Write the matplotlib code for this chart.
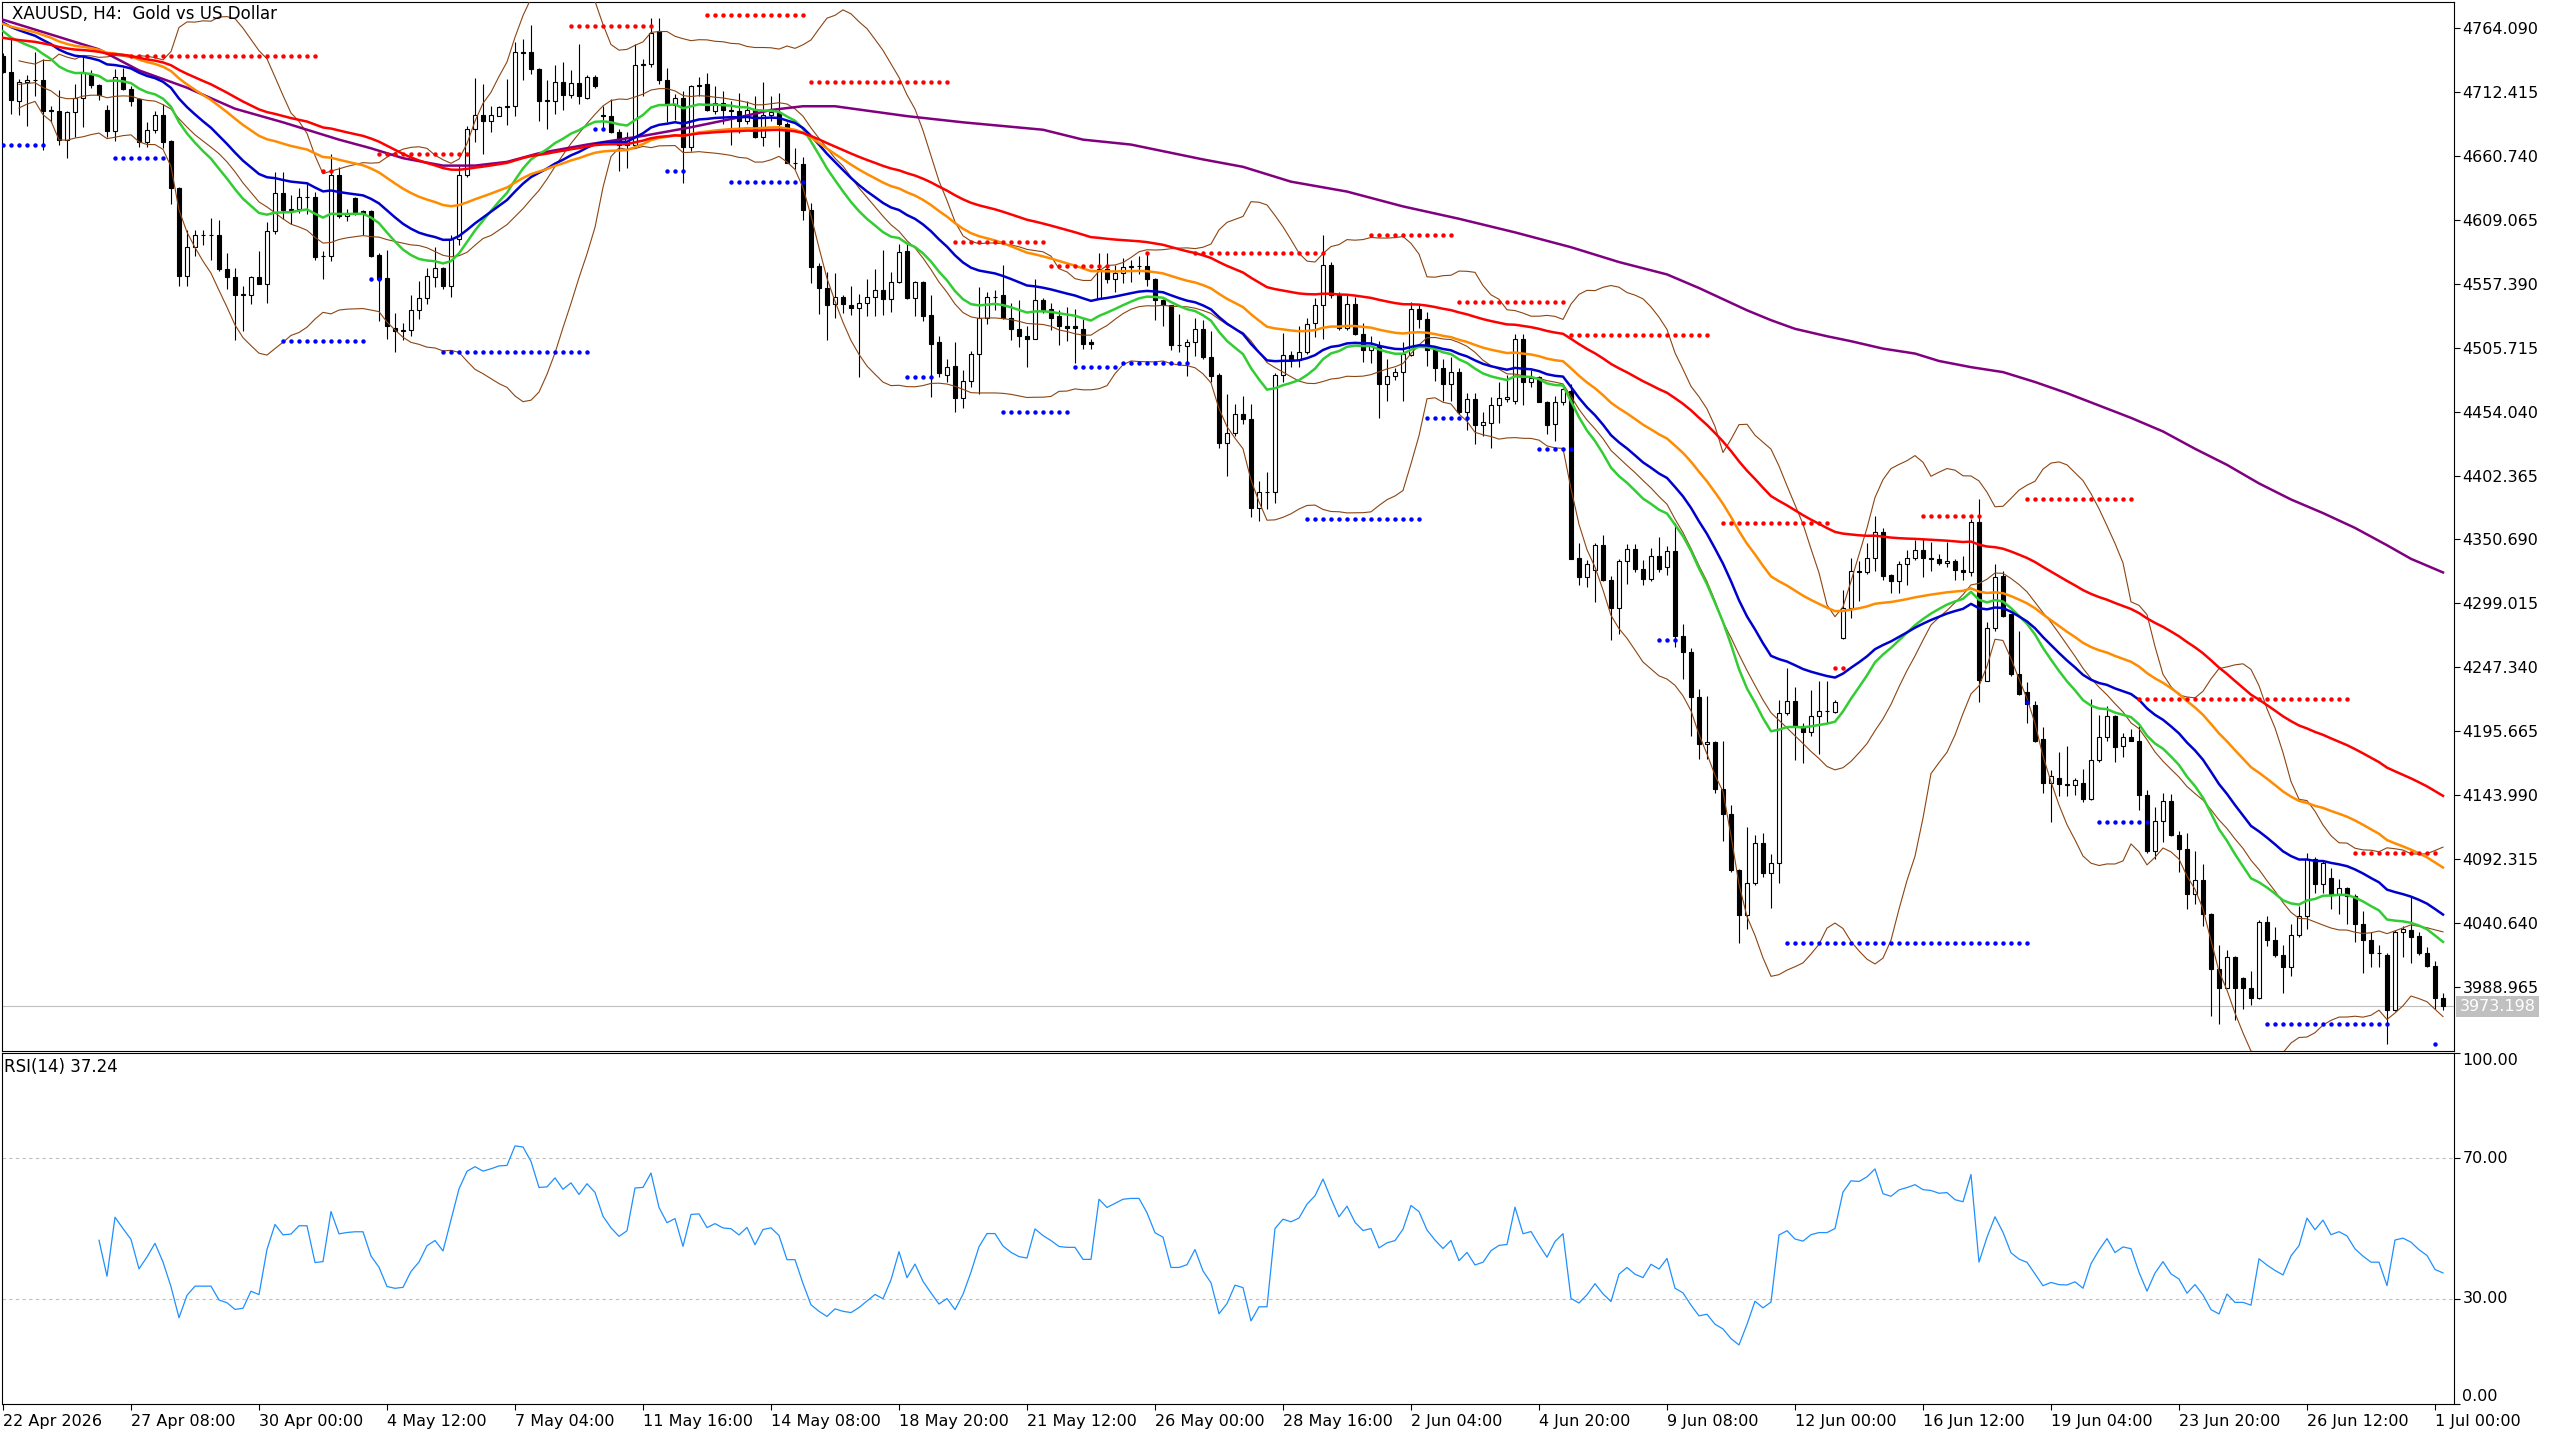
import numpy as np
import pandas as pd
import matplotlib
matplotlib.use('Agg')
import matplotlib.pyplot as plt

plt.rcParams['font.family'] = ['DejaVu Sans']

# XAUUSD H4 candles (bar 0 = 22 Apr 2026 16:00)
opens = [
    4742, 4729, 4705, 4721, 4722, 4722, 4698, 4697, 4674, 4696,
    4708, 4727, 4718, 4698, 4681, 4725, 4715, 4707, 4672, 4682,
    4694, 4673, 4635, 4564, 4587, 4597, 4597, 4597, 4569, 4563,
    4548, 4548, 4563, 4557, 4600, 4631, 4617, 4618, 4628, 4628,
    4580, 4580, 4645, 4612, 4627, 4616, 4616, 4581, 4562, 4522,
    4519, 4520, 4536, 4546, 4563, 4570, 4556, 4594, 4645, 4683,
    4694, 4689, 4693, 4700, 4701, 4745, 4745, 4731, 4705, 4705,
    4721, 4710, 4720, 4708, 4725, 4694, 4693, 4680, 4670, 4670,
    4734, 4735, 4762, 4722, 4702, 4708, 4668, 4717, 4719, 4697,
    4704, 4698, 4697, 4689, 4698, 4676, 4694, 4696, 4687, 4655,
    4654, 4617, 4572, 4554, 4541, 4547, 4540, 4538, 4542, 4547,
    4552, 4545, 4559, 4584, 4546, 4559, 4532, 4510, 4484, 4491,
    4465, 4479, 4501, 4530, 4547, 4548, 4530, 4521, 4515, 4513,
    4544, 4537, 4531, 4523, 4523, 4521, 4510, 4546, 4569, 4561,
    4566, 4571, 4572, 4572, 4561, 4544, 4540, 4508, 4507, 4510,
    4521, 4498, 4484, 4429, 4437, 4452, 4448, 4376, 4389, 4389,
    4484, 4500, 4496, 4502, 4526, 4540, 4573, 4548, 4522, 4541,
    4517, 4504, 4507, 4476, 4483, 4486, 4500, 4537, 4529, 4504,
    4489, 4476, 4486, 4454, 4464, 4443, 4445, 4459, 4464, 4463,
    4513, 4478, 4482, 4462, 4444, 4462, 4471, 4336, 4320, 4326,
    4346, 4318, 4295, 4333, 4343, 4327, 4319, 4337, 4328, 4341,
    4273, 4260, 4223, 4185, 4187, 4149, 4129, 4083, 4047, 4073,
    4105, 4081, 4089, 4210, 4220, 4200, 4195, 4208, 4212, 4211,
    4271, 4295, 4325, 4324, 4336, 4357, 4322, 4317, 4331, 4336,
    4342, 4336, 4335, 4332, 4333, 4326, 4324, 4365, 4236, 4279,
    4321, 4290, 4242, 4227, 4217, 4189, 4154, 4158, 4153, 4152,
    4154, 4141, 4172, 4191, 4208, 4184, 4191, 4188, 4144, 4099,
    4123, 4139, 4112, 4100, 4064, 4075, 4048, 4003, 3988, 4013,
    3996, 3988, 3980, 4041, 4027, 4015, 4005, 4031, 4046, 4092,
    4072, 4077, 4064, 4069, 4062, 4040, 4027, 4016, 4015, 3970,
    4033, 4035, 4030, 4016, 4006, 3980,
]
highs = [
    4744, 4756, 4723, 4726, 4745, 4739, 4701, 4714, 4697, 4719,
    4742, 4730, 4719, 4702, 4731, 4732, 4717, 4708, 4688, 4697,
    4703, 4674, 4636, 4601, 4601, 4601, 4611, 4609, 4582, 4570,
    4556, 4564, 4584, 4607, 4648, 4648, 4629, 4635, 4640, 4632,
    4584, 4662, 4652, 4618, 4628, 4617, 4617, 4582, 4585, 4534,
    4526, 4548, 4560, 4570, 4587, 4571, 4597, 4653, 4685, 4724,
    4719, 4701, 4701, 4723, 4753, 4755, 4767, 4732, 4722, 4734,
    4737, 4730, 4751, 4726, 4726, 4701, 4707, 4683, 4680, 4751,
    4739, 4772, 4772, 4732, 4711, 4713, 4718, 4725, 4728, 4717,
    4713, 4705, 4712, 4705, 4709, 4721, 4709, 4712, 4688, 4667,
    4660, 4623, 4574, 4567, 4566, 4548, 4556, 4549, 4561, 4569,
    4585, 4567, 4590, 4590, 4560, 4560, 4548, 4515, 4497, 4510,
    4488, 4503, 4555, 4551, 4552, 4573, 4542, 4544, 4523, 4561,
    4546, 4542, 4536, 4539, 4537, 4529, 4513, 4582, 4582, 4573,
    4578, 4577, 4580, 4582, 4562, 4545, 4540, 4533, 4513, 4530,
    4528, 4519, 4485, 4468, 4460, 4467, 4460, 4398, 4405, 4485,
    4518, 4503, 4523, 4530, 4546, 4597, 4575, 4551, 4548, 4547,
    4526, 4515, 4511, 4497, 4489, 4510, 4543, 4540, 4535, 4505,
    4497, 4498, 4489, 4469, 4469, 4454, 4466, 4478, 4484, 4517,
    4517, 4488, 4483, 4463, 4467, 4473, 4476, 4348, 4334, 4348,
    4354, 4321, 4335, 4347, 4347, 4334, 4344, 4353, 4345, 4364,
    4282, 4263, 4230, 4224, 4188, 4188, 4136, 4084, 4118, 4112,
    4113, 4096, 4221, 4247, 4231, 4202, 4229, 4236, 4236, 4221,
    4310, 4336, 4333, 4348, 4370, 4360, 4323, 4333, 4342, 4350,
    4351, 4349, 4339, 4349, 4335, 4337, 4367, 4383, 4284, 4331,
    4325, 4290, 4277, 4235, 4220, 4199, 4164, 4179, 4184, 4158,
    4165, 4222, 4209, 4216, 4209, 4194, 4197, 4200, 4148, 4134,
    4146, 4145, 4115, 4113, 4099, 4088, 4049, 4023, 4019, 4014,
    3997, 4002, 4043, 4046, 4037, 4023, 4040, 4054, 4097, 4094,
    4091, 4085, 4076, 4070, 4064, 4050, 4033, 4023, 4016, 4035,
    4038, 4062, 4033, 4021, 4010, 3984,
]
lows = [
    4728, 4695, 4694, 4685, 4709, 4666, 4688, 4670, 4659, 4676,
    4684, 4716, 4706, 4676, 4673, 4714, 4701, 4668, 4668, 4679,
    4667, 4622, 4556, 4556, 4580, 4589, 4577, 4568, 4553, 4512,
    4519, 4541, 4557, 4542, 4598, 4610, 4606, 4615, 4614, 4577,
    4561, 4576, 4611, 4608, 4613, 4597, 4579, 4527, 4513, 4502,
    4512, 4515, 4529, 4541, 4555, 4553, 4547, 4589, 4644, 4672,
    4662, 4680, 4693, 4686, 4693, 4722, 4727, 4689, 4683, 4695,
    4698, 4708, 4703, 4707, 4716, 4682, 4679, 4649, 4651, 4667,
    4709, 4733, 4719, 4688, 4690, 4639, 4665, 4709, 4697, 4695,
    4687, 4670, 4679, 4687, 4675, 4669, 4689, 4668, 4655, 4650,
    4609, 4558, 4533, 4512, 4530, 4534, 4532, 4482, 4531, 4531,
    4532, 4535, 4558, 4545, 4531, 4527, 4466, 4482, 4478, 4454,
    4457, 4474, 4468, 4525, 4536, 4529, 4512, 4506, 4490, 4513,
    4534, 4520, 4508, 4511, 4493, 4505, 4505, 4546, 4558, 4551,
    4558, 4559, 4565, 4556, 4528, 4523, 4504, 4502, 4483, 4499,
    4497, 4478, 4425, 4402, 4434, 4444, 4369, 4366, 4375, 4380,
    4478, 4490, 4490, 4501, 4514, 4513, 4546, 4520, 4520, 4516,
    4494, 4493, 4449, 4463, 4480, 4463, 4499, 4522, 4491, 4479,
    4463, 4463, 4452, 4439, 4428, 4434, 4425, 4445, 4462, 4460,
    4459, 4474, 4462, 4436, 4430, 4459, 4335, 4314, 4312, 4300,
    4317, 4269, 4274, 4315, 4324, 4314, 4317, 4324, 4322, 4264,
    4238, 4192, 4173, 4173, 4146, 4107, 4082, 4024, 4036, 4071,
    4078, 4053, 4073, 4209, 4172, 4170, 4192, 4177, 4202, 4210,
    4270, 4287, 4301, 4323, 4325, 4318, 4307, 4307, 4314, 4334,
    4320, 4325, 4330, 4328, 4318, 4318, 4321, 4219, 4236, 4277,
    4288, 4240, 4225, 4202, 4187, 4146, 4122, 4143, 4143, 4144,
    4138, 4140, 4171, 4188, 4171, 4175, 4188, 4132, 4097, 4092,
    4106, 4111, 4082, 4052, 4056, 4038, 3965, 3959, 3988, 3962,
    3971, 3974, 3979, 4022, 4013, 3984, 3998, 4029, 4036, 4065,
    4065, 4052, 4048, 4040, 4025, 4000, 4005, 4005, 3943, 3969,
    4013, 4008, 4015, 4005, 3971, 3970,
]
closes = [
    4729, 4706, 4721, 4722, 4722, 4697, 4697, 4674, 4696, 4708,
    4729, 4718, 4710, 4681, 4725, 4715, 4705, 4672, 4682, 4694,
    4672, 4635, 4564, 4587, 4597, 4597, 4597, 4569, 4563, 4548,
    4549, 4563, 4557, 4600, 4631, 4617, 4618, 4628, 4628, 4579,
    4580, 4645, 4612, 4614, 4615, 4615, 4580, 4561, 4523, 4519,
    4520, 4536, 4546, 4564, 4570, 4556, 4594, 4645, 4683, 4694,
    4689, 4694, 4700, 4701, 4745, 4744, 4731, 4705, 4706, 4721,
    4710, 4720, 4709, 4725, 4717, 4693, 4680, 4670, 4676, 4734,
    4735, 4760, 4722, 4702, 4708, 4668, 4717, 4718, 4698, 4704,
    4698, 4697, 4689, 4698, 4676, 4694, 4696, 4687, 4655, 4655,
    4617, 4571, 4554, 4540, 4547, 4541, 4538, 4542, 4547, 4552,
    4545, 4559, 4583, 4546, 4559, 4531, 4509, 4485, 4490, 4465,
    4479, 4501, 4530, 4547, 4547, 4530, 4521, 4515, 4513, 4544,
    4536, 4530, 4523, 4522, 4522, 4509, 4509, 4569, 4561, 4566,
    4571, 4572, 4572, 4561, 4544, 4540, 4508, 4508, 4510, 4521,
    4498, 4483, 4429, 4437, 4452, 4448, 4376, 4389, 4389, 4484,
    4500, 4496, 4502, 4525, 4540, 4573, 4548, 4522, 4541, 4517,
    4504, 4507, 4476, 4483, 4486, 4501, 4537, 4529, 4504, 4489,
    4476, 4486, 4454, 4464, 4443, 4446, 4459, 4465, 4466, 4513,
    4478, 4481, 4462, 4443, 4462, 4472, 4335, 4320, 4331, 4346,
    4318, 4295, 4333, 4343, 4327, 4319, 4337, 4327, 4341, 4273,
    4260, 4223, 4185, 4187, 4149, 4129, 4083, 4047, 4073, 4105,
    4081, 4089, 4210, 4220, 4200, 4195, 4208, 4212, 4212, 4219,
    4295, 4325, 4324, 4336, 4357, 4321, 4317, 4331, 4336, 4342,
    4336, 4335, 4332, 4333, 4326, 4324, 4365, 4237, 4279, 4320,
    4289, 4242, 4226, 4218, 4188, 4154, 4159, 4153, 4152, 4156,
    4141, 4172, 4191, 4208, 4183, 4191, 4188, 4144, 4099, 4123,
    4139, 4112, 4100, 4064, 4075, 4048, 4003, 3988, 4013, 3988,
    3988, 3980, 4041, 4027, 4015, 4005, 4031, 4046, 4092, 4072,
    4089, 4064, 4069, 4062, 4040, 4027, 4016, 4016, 3970, 4033,
    4036, 4029, 4016, 4006, 3980, 3973.198,
]

# EMA periods and their value at the left edge of the chart
ema_periods = [21, 34, 55, 89]
ema_start = [4765, 4771, 4769, 4757]

# slow purple MA, read at sample bars
slow_bars = [0, 6, 12, 17, 23, 29, 35, 42, 46, 50, 55, 59, 63, 67, 73, 80, 86, 92,
             96, 100, 104, 113, 120, 130, 135, 141, 150, 155, 161, 168, 175, 182,
             189, 196, 202, 208, 212, 218, 221, 224, 228, 231, 235, 239, 242, 246,
             250, 254, 258, 262, 266, 270, 274, 278, 282, 286, 290, 294, 298, 301, 305]
slow_vals = [4771, 4759, 4747, 4730, 4716, 4699, 4688, 4674, 4667, 4659, 4653, 4653,
             4656, 4663, 4670, 4677, 4684, 4692, 4698, 4701, 4701, 4693, 4688, 4682,
             4674, 4670, 4658, 4652, 4640, 4632, 4620, 4610, 4599, 4587, 4575, 4565,
             4554, 4536, 4528, 4521, 4515, 4511, 4505, 4501, 4495, 4490, 4486, 4478,
             4469, 4459, 4449, 4438, 4424, 4411, 4396, 4383, 4372, 4360, 4346, 4335, 4324]

# fractal levels: (first bar, last bar, price)
res_levels = [(16, 39, 4742), (40, 41, 4649), (47, 58, 4662), (71, 81, 4766),
              (88, 100, 4775), (101, 118, 4721), (119, 130, 4591), (131, 138, 4572),
              (143, 143, 4582), (149, 165, 4582), (171, 181, 4597), (182, 195, 4543),
              (196, 213, 4516), (215, 228, 4364), (229, 230, 4247), (240, 247, 4370),
              (253, 266, 4383), (267, 293, 4222), (294, 304, 4097)]
sup_levels = [(0, 5, 4670), (14, 20, 4659), (35, 45, 4511), (46, 47, 4561),
              (55, 73, 4502), (74, 75, 4683), (83, 85, 4649), (91, 100, 4640),
              (113, 116, 4482), (125, 133, 4454), (134, 139, 4490), (140, 148, 4493),
              (163, 177, 4367), (178, 183, 4449), (192, 196, 4424), (207, 209, 4269),
              (223, 253, 4024), (253, 253, 4219), (262, 268, 4122), (283, 298, 3959),
              (304, 304, 3943)]

date_labels = ["22 Apr 2026", "27 Apr 08:00", "30 Apr 00:00", "4 May 12:00", "7 May 04:00",
               "11 May 16:00", "14 May 08:00", "18 May 20:00", "21 May 12:00", "26 May 00:00",
               "28 May 16:00", "2 Jun 04:00", "4 Jun 20:00", "9 Jun 08:00", "12 Jun 00:00",
               "16 Jun 12:00", "19 Jun 04:00", "23 Jun 20:00", "26 Jun 12:00", "1 Jul 00:00"]
date_bars = list(range(0, 305, 16))

price_ticks = [3988.965 + 51.675 * k for k in range(16)]
rsi_ticks = [100, 70, 30, 0]

# ---- indicators
close = pd.Series(closes, dtype=float)
n = len(close)
x = np.arange(n)

def ema(s, span, seed):
    s2 = pd.concat([pd.Series([float(seed)]), s], ignore_index=True)
    return s2.ewm(span=span, adjust=False).mean().iloc[1:].to_numpy()

mid = close.rolling(20, min_periods=3).mean()
sd = close.rolling(20, min_periods=3).std(ddof=0)
bb_up, bb_lo = mid + 2 * sd, mid - 2 * sd

# RSI(14), Wilder smoothing; first bars skipped until enough history
delta = close.diff()
gain = delta.clip(lower=0).ewm(alpha=1 / 14, adjust=True, min_periods=12).mean()
loss = (-delta.clip(upper=0)).ewm(alpha=1 / 14, adjust=True, min_periods=12).mean()
rsi = 100 - 100 / (1 + gain / loss)

# ---- figure
W, H = 2560, 1440
fig = plt.figure(figsize=(W / 100, H / 100), dpi=100)
fig.patch.set_facecolor('white')
ax = fig.add_axes([2 / W, 1 - 1051 / H, 2452 / W, 1049 / H])
axr = fig.add_axes([2 / W, 1 - 1404 / H, 2452 / W, 351 / H])

xl = (-0.125, 306.375)
ax.set_xlim(*xl)
ax.set_ylim(3937.0, 4785.3)

o = np.array(opens, float); h = np.array(highs, float)
l = np.array(lows, float); c = np.array(closes, float)
ax.vlines(x, l, h, color='black', lw=0.8, zorder=2)
bull = c >= o
lo_b = np.minimum(o, c); hi_b = np.maximum(o, c)
ax.bar(x[bull], hi_b[bull] - lo_b[bull], bottom=lo_b[bull], width=0.6,
       facecolor='white', edgecolor='black', linewidth=0.8, zorder=2.5)
ax.bar(x[~bull], hi_b[~bull] - lo_b[~bull], bottom=lo_b[~bull], width=0.6,
       facecolor='black', edgecolor='black', linewidth=0.8, zorder=2.5)

# bollinger bands
for s in (bb_up, mid, bb_lo):
    ax.plot(x, s, color='#8B4513', lw=0.8, zorder=3)

ema_colors = ['#32CD32', '#0000CD', '#FF8C00', '#FF0000']
for p, s0, col in zip(ema_periods, ema_start, ema_colors):
    ax.plot(x, ema(close, p, s0), color=col, lw=1.8, zorder=3.2)
ax.plot(slow_bars, slow_vals, color='#800080', lw=1.8, zorder=3.1)

for b0, b1, pr in res_levels:
    bb = np.arange(b0, b1 + 1)
    ax.plot(bb, np.full(len(bb), pr), 'o', color='#FF0000', ms=3.2, mec='none', zorder=4)
for b0, b1, pr in sup_levels:
    bb = np.arange(b0, b1 + 1)
    ax.plot(bb, np.full(len(bb), pr), 'o', color='#0000FF', ms=3.2, mec='none', zorder=4)

last = closes[-1]
ax.axhline(last, color='#C0C0C0', lw=0.8, zorder=1)
ax.annotate('%.3f' % last, xy=(1, last), xycoords=('axes fraction', 'data'),
            xytext=(4, 0), textcoords='offset points', ha='left', va='center',
            fontsize=11.5, color='white', annotation_clip=False,
            bbox=dict(boxstyle='square,pad=0.2', fc='#C0C0C0', ec='none'))

ax.yaxis.tick_right()
ax.set_yticks(price_ticks)
ax.set_yticklabels(['%.3f' % t for t in price_ticks])
ax.tick_params(axis='y', direction='out', length=4, width=0.8, pad=2, labelsize=11.5)
ax.set_xticks([])
for sp in ax.spines.values():
    sp.set_linewidth(0.8)
ax.text(0.004, 0.997, 'XAUUSD, H4:  Gold vs US Dollar', transform=ax.transAxes,
        ha='left', va='top', fontsize=12)

# ---- RSI panel
axr.set_xlim(*xl)
axr.set_ylim(0, 100)
axr.axhline(70, color='#C0C0C0', lw=0.8, ls=(0, (3, 3)))
axr.axhline(30, color='#C0C0C0', lw=0.8, ls=(0, (3, 3)))
axr.plot(x, rsi, color='#1E90FF', lw=0.9, zorder=3)
axr.yaxis.tick_right()
axr.set_yticks(rsi_ticks)
axr.set_yticklabels([])
axr.tick_params(axis='y', direction='out', length=4, width=0.8)
for v in rsi_ticks:
    va = 'top' if v == 100 else ('bottom' if v == 0 else 'center')
    axr.annotate('%.2f' % v, xy=(1, v), xycoords=('axes fraction', 'data'),
                 xytext=(6, 0), textcoords='offset points', ha='left', va=va,
                 fontsize=11.5, annotation_clip=False)
axr.set_xticks(date_bars)
axr.set_xticklabels(date_labels, fontsize=11.5)
for t in axr.get_xticklabels():
    t.set_ha('left')
axr.tick_params(axis='x', direction='out', length=4, width=0.8, pad=3)
for sp in axr.spines.values():
    sp.set_linewidth(0.8)
axr.text(0.001, 0.985, 'RSI(14) 37.24', transform=axr.transAxes,
         ha='left', va='top', fontsize=12)

fig.savefig('out.png', dpi=100)
